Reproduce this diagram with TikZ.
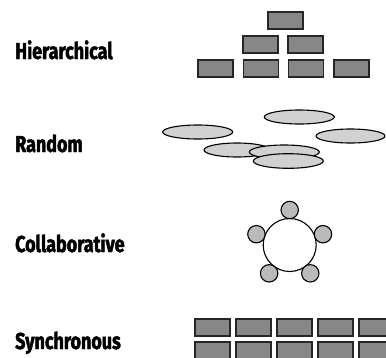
\documentclass[tikz,border=0pt]{standalone}
\usepackage{fontspec}
\newfontfamily\labelfont[FakeStretch=0.78, FakeBold=2]{Fira Sans}
\usepackage{tikz}

\tikzset{
  kind/.style={anchor=base west, inner sep=0pt, font=\labelfont\bfseries\fontsize{23}{23}\selectfont},
  block/.style={draw=black!85, line width=1.1pt, fill=black!47},
  blob/.style={draw=black, line width=1.1pt, fill=black!18},
  member/.style={draw=black, line width=1.1pt, fill=black!27},
}

\begin{document}
\begin{tikzpicture}[x=1pt, y=-1pt]
		\useasboundingbox (0,0) rectangle (386,357);
		\begin{scope}
			\clip (0,0) rectangle (386,357);

			% labels
			\node[kind] (hier) at (15,59) {Hierarchical};
			\node[kind] (rand) at (15,152) {Random};
			\node[kind] (coll) at (15,252) {Collaborative};
			\node[kind] (sync) at (15,349) {Synchronous};

			% hierarchical
			\filldraw[block] (268,12) rectangle +(35,17);
			\foreach \x in {243,288}
				\filldraw[block] (\x,36) rectangle +(35,17);
			\foreach \x in {198,243.5,288.5,334}
				\filldraw[block] (\x,60) rectangle +(35,17);

			% random
			\filldraw[blob] (197.7,132) ellipse (35 and 7);
			\filldraw[blob] (299.3,117) ellipse (35 and 7);
			\filldraw[blob] (350.5,136) ellipse (34.5 and 7);
			\filldraw[blob] (237,150) ellipse (33 and 7);
			\filldraw[blob] (284.3,152) ellipse (35 and 7);
			\filldraw[blob] (288.3,161) ellipse (35 and 7.3);

			% collaborative
			\filldraw[draw=black, line width=1.1pt, fill=white] (289.7,245) circle (26.5);
			\foreach \a in {270,198,126,54,342}
				\filldraw[member] (289.7,245) ++(\a:35) circle (8.7);

			% synchronous
			\foreach \x in {195,236,277,318,359}
				\foreach \y in {319,342}
					\filldraw[block] (\x,\y) rectangle +(35,17);
		\end{scope}
\end{tikzpicture}
\end{document}
